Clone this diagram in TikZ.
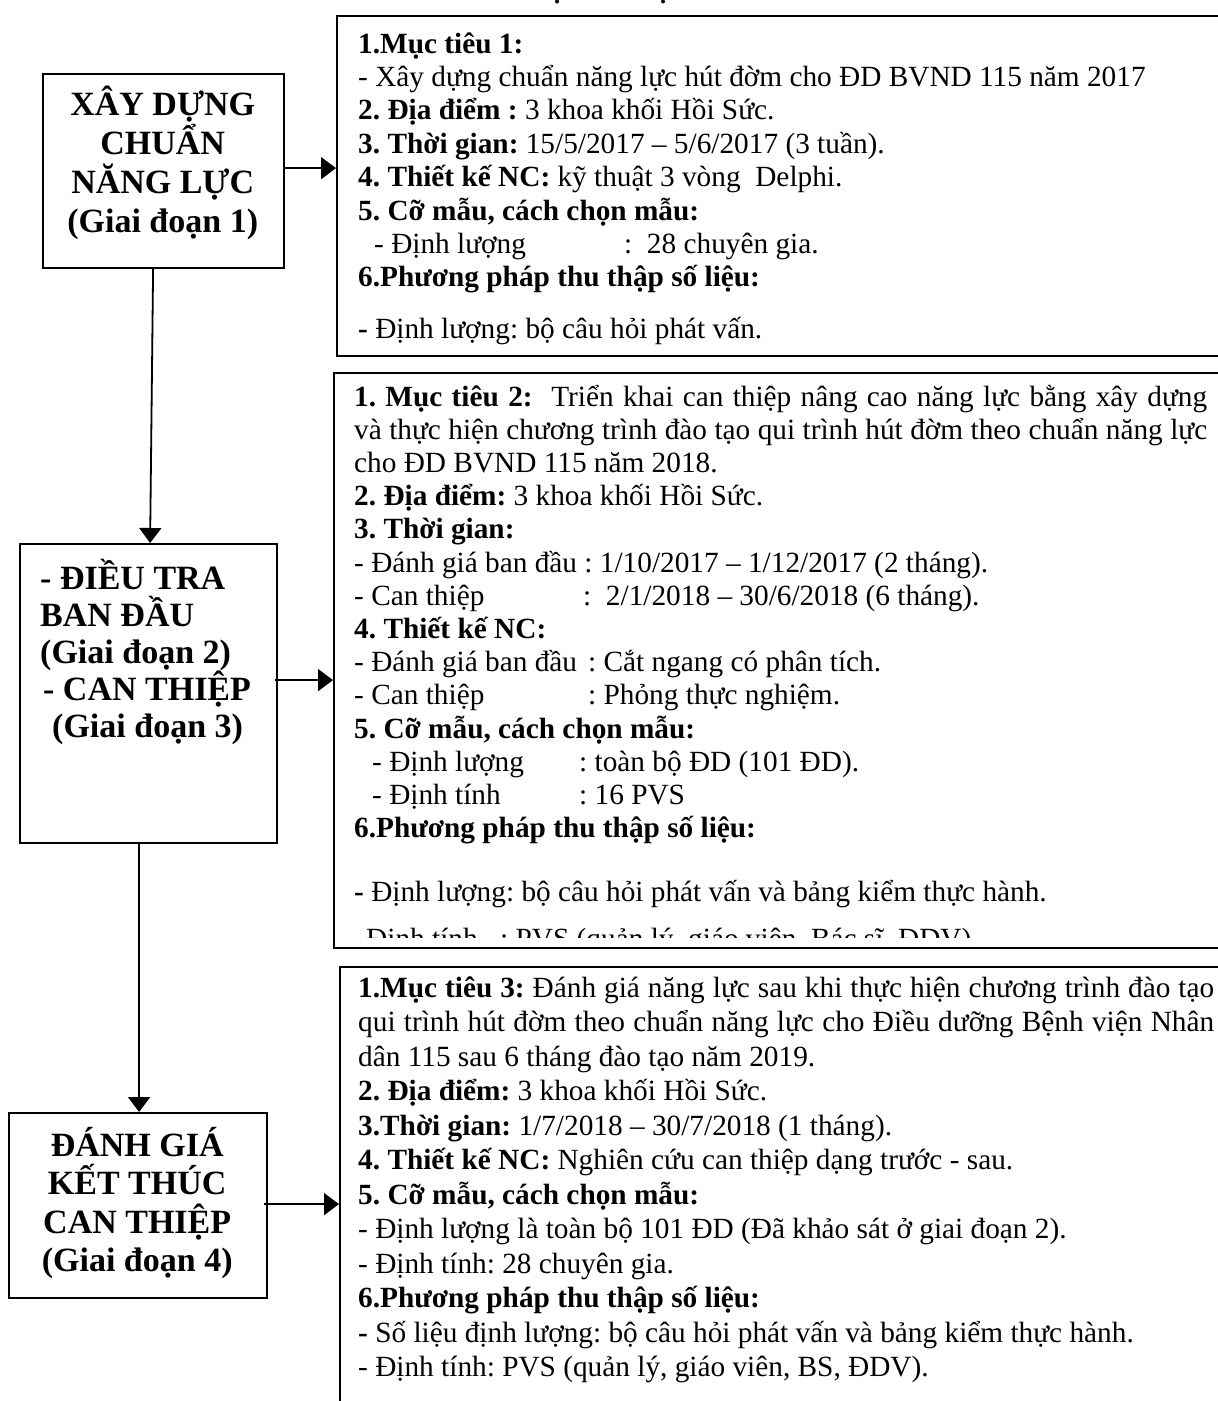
\documentclass[tikz,border=0pt]{standalone}
\usepackage{fontspec}
\setmainfont{Liberation Serif}
\usetikzlibrary{arrows.meta}

% stacked lines with a fixed baseline pitch
\newcommand\stack[2]{\vtop{\baselineskip=#1\lineskiplimit=-\maxdimen\lineskip=0pt #2}}
\newcommand\ctr[2]{\hbox to #1{\hss#2\hss}}
\newcommand\tabto[2]{\hbox to #1{#2\hfil}}

\begin{document}
\frenchspacing
\begin{tikzpicture}[x=1pt,y=-1pt,
  stagebox/.style={draw, line width=2.2pt, anchor=north west, inner sep=0pt},
  infobox/.style={draw, line width=1.8pt, anchor=north west, inner sep=0pt},
  flow/.style={line width=1.8pt, -{Triangle[length=15pt,width=22pt]}},
  body/.style={anchor=base west, inner sep=0pt, font=\fontsize{29.3}{33.4}\selectfont},
  heading/.style={anchor=base west, inner sep=0pt, font=\fontsize{34}{38.5}\selectfont\bfseries}]

\useasboundingbox (0,0) rectangle (1218,1401);
\clip (0,0) rectangle (1218,1401);

% remnants of the heading line above
\fill (557,1.5) circle (2);
\fill (663,1.5) circle (2);

% ---------- stage boxes ----------
\node[stagebox, minimum width=241pt, minimum height=194pt] (s1) at (42,73) {};
\node[stagebox, minimum width=257pt, minimum height=299pt] (s2) at (19,543) {};
\node[stagebox, minimum width=258pt, minimum height=185pt] (s3) at (8,1112) {};

\node[heading] (s1t) at (42,115) {\stack{39.3pt}{%
  \ctr{241pt}{XÂY DỰNG}\ctr{241pt}{CHUẨN}\ctr{241pt}{NĂNG LỰC}\ctr{241pt}{(Giai đoạn 1)}}};

\node[heading] (s2t) at (40,589) {\stack{37pt}{%
  \hbox{- ĐIỀU TRA}\hbox{BAN ĐẦU}\hbox{(Giai đoạn 2)}%
  \hbox{\kern3pt- CAN THIỆP}\hbox{\kern12pt(Giai đoạn 3)}}};

\node[heading] (s3t) at (8,1156) {\stack{38.6pt}{%
  \ctr{258pt}{ĐÁNH GIÁ}\ctr{258pt}{KẾT THÚC}\ctr{258pt}{CAN THIỆP}\ctr{258pt}{(Giai đoạn 4)}}};

% ---------- detail boxes (run past the right edge) ----------
\node[infobox, minimum width=904pt, minimum height=340pt] (d1) at (336,15) {};
\node[infobox, minimum width=910pt, minimum height=575pt] (d2) at (333,372) {};
\node[infobox, minimum width=900pt, minimum height=470pt] (d3) at (339,966) {};

\node[body] (d1t) at (358,53) {\stack{33.4pt}{%
  \hbox{\textbf{1.Mục tiêu 1:}}
  \hbox{- Xây dựng chuẩn năng lực hút đờm cho ĐD BVND 115 năm 2017}
  \hbox{\textbf{2. Địa điểm :} 3 khoa khối Hồi Sức.}
  \hbox{\textbf{3. Thời gian:} 15/5/2017 – 5/6/2017 (3 tuần).}
  \hbox{\textbf{4. Thiết kế NC:} kỹ thuật 3 vòng\ \ Delphi.}
  \hbox{\textbf{5. Cỡ mẫu, cách chọn mẫu:}}
  \hbox{\kern16pt\tabto{250pt}{- Định lượng}:\ \ 28 chuyên gia.}
  \hbox{\textbf{6.Phương pháp thu thập số liệu:}}
  \kern17.8pt
  \hbox{\textbf{-} Định lượng: bộ câu hỏi phát vấn.}}};

\begin{scope}
\clip (333,372) rectangle (1218,937);
\node[body] (d2t) at (354,406) {\stack{33.2pt}{%
  \hbox to 853pt{\textbf{1. Mục tiêu 2:}\ \ Triển khai can thiệp nâng cao năng lực bằng xây dựng}
  \hbox to 853pt{và thực hiện chương trình đào tạo qui trình hút đờm theo chuẩn năng lực}
  \hbox{cho ĐD BVND 115 năm 2018.}
  \hbox{\textbf{2. Địa điểm:} 3 khoa khối Hồi Sức.}
  \hbox{\textbf{3. Thời gian:}}
  \hbox{- Đánh giá ban đầu : 1/10/2017 – 1/12/2017 (2 tháng).}
  \hbox{\tabto{229pt}{- Can thiệp}:\ \ 2/1/2018 – 30/6/2018 (6 tháng).}
  \hbox{\textbf{4. Thiết kế NC:}}
  \hbox{\tabto{234pt}{- Đánh giá ban đầu}: Cắt ngang có phân tích.}
  \hbox{\tabto{234pt}{- Can thiệp}: Phỏng thực nghiệm.}
  \hbox{\textbf{5. Cỡ mẫu, cách chọn mẫu:}}
  \hbox{\kern18pt\tabto{207pt}{- Định lượng}: toàn bộ ĐD (101 ĐD).}
  \hbox{\kern18pt\tabto{207pt}{- Định tính}: 16 PVS}
  \hbox{\textbf{6.Phương pháp thu thập số liệu:}}
  \kern31pt
  \hbox{\textbf{-} Định lượng: bộ câu hỏi phát vấn và bảng kiểm thực hành.}
  \kern13pt
  \hbox{\kern12pt\tabto{134pt}{Định tính}: PVS (quản lý, giáo viên, Bác sĩ, ĐDV).}}};
\end{scope}

\node[body] (d3t) at (358,997) {\stack{34.5pt}{%
  \hbox to 856pt{\textbf{1.Mục tiêu 3:} Đánh giá năng lực sau khi thực hiện chương trình đào tạo}
  \hbox to 856pt{qui trình hút đờm theo chuẩn năng lực cho Điều dưỡng Bệnh viện Nhân}
  \hbox{dân 115 sau 6 tháng đào tạo năm 2019.}
  \hbox{\textbf{2. Địa điểm:} 3 khoa khối Hồi Sức.}
  \hbox{\textbf{3.Thời gian:} 1/7/2018 – 30/7/2018 (1 tháng).}
  \hbox{\textbf{4. Thiết kế NC:} Nghiên cứu can thiệp dạng trước - sau.}
  \hbox{\textbf{5. Cỡ mẫu, cách chọn mẫu:}}
  \hbox{- Định lượng là toàn bộ 101 ĐD (Đã khảo sát ở giai đoạn 2).}
  \hbox{- Định tính: 28 chuyên gia.}
  \hbox{\textbf{6.Phương pháp thu thập số liệu:}}
  \hbox{\textbf{-} Số liệu định lượng: bộ câu hỏi phát vấn và bảng kiểm thực hành.}
  \hbox{- Định tính: PVS (quản lý, giáo viên, BS, ĐDV).}}};

% ---------- connectors ----------
\coordinate (a1) at ([yshift=3pt]s1.east);
\coordinate (a2) at ([xshift=-3pt,yshift=13.5pt]s2.east);
\coordinate (a3) at ([xshift=-4pt,yshift=1.5pt]s3.east);
\draw[flow] (a1) -- (a1 -| d1.west);
\draw[flow] (a2) -- (a2 -| d2.west);
\draw[flow] (a3) -- (a3 -| d3.west);

\coordinate (v1a) at ([xshift=-10.5pt]s1.south);
\coordinate (v1b) at ([xshift=1.5pt]s2.north);
\coordinate (v2a) at ([xshift=-9.5pt]s2.south);
\coordinate (v2b) at ([xshift=1pt]s3.north);
\draw[flow] (v1a) -- (v1b);
\draw[flow] (v2a) -- (v2b);
\end{tikzpicture}
\end{document}
